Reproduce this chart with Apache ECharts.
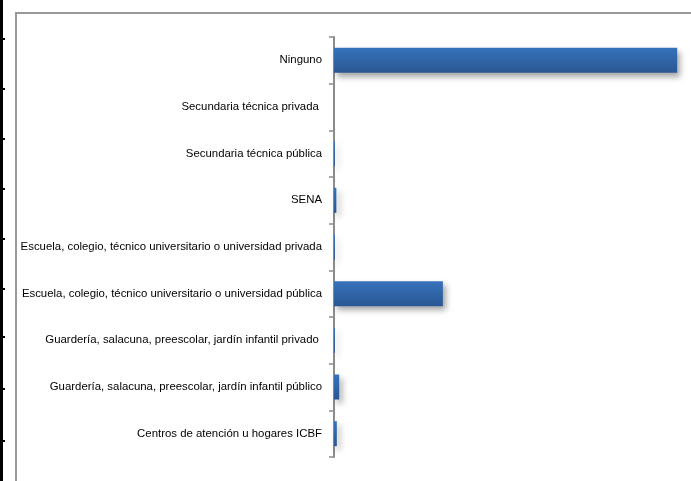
<!DOCTYPE html>
<html><head><meta charset="utf-8">
<script src="https://cdn.jsdelivr.net/npm/echarts@6/dist/echarts.min.js"></script>
<style>html,body{margin:0;padding:0;background:#fff}#c{width:691px;height:481px}</style>
</head><body><div id="c"></div>
<script>
const categories = [
  "Centros de atención u hogares ICBF",
  "Guardería, salacuna, preescolar, jardín infantil público",
  "Guardería, salacuna, preescolar, jardín infantil privado ",
  "Escuela, colegio, técnico universitario o universidad pública",
  "Escuela, colegio, técnico universitario o universidad privada",
  "SENA",
  "Secundaria técnica pública",
  "Secundaria técnica privada ",
  "Ninguno"
];
const values = [0.6, 1.1, 0.2, 23.0, 0.2, 0.5, 0.2, 0.0, 72.5];
const notchYs = [38, 88, 138, 188, 238, 288, 336, 388, 440];

const chart = echarts.init(document.getElementById('c'), null, {renderer: 'canvas'});
const graphics = [
  {type:'rect', shape:{x:0,y:0,width:3,height:481}, style:{fill:'#000'}, z:10},
  {type:'line', shape:{x1:16,y1:13,x2:691,y2:13}, style:{stroke:'#999',lineWidth:2}, z:10},
  {type:'line', shape:{x1:16,y1:12,x2:16,y2:481}, style:{stroke:'#999',lineWidth:2}, z:10}
];
notchYs.forEach(y => graphics.push({type:'rect', shape:{x:3,y:y,width:2,height:2}, style:{fill:'#000'}, z:10}));

chart.setOption({
  animation: false,
  grid: {left: 334, right: 2, top: 37, bottom: 24, containLabel: false},
  xAxis: {type: 'value', min: 0, max: 75, show: false},
  yAxis: {
    type: 'category', data: categories,
    axisLine: {lineStyle: {color: '#8c8c8c', width: 2}},
    axisTick: {show: true, length: 5, lineStyle: {color: '#8c8c8c', width: 1.5}},
    axisLabel: {color: '#000', fontFamily: 'Liberation Sans, Arial, sans-serif', fontSize: 11.4, margin: 12}
  },
  series: [{
    type: 'bar', data: values, barWidth: 25,
    itemStyle: {
      color: new echarts.graphic.LinearGradient(0,0,0,1,[{offset:0,color:'#3672bb'},{offset:1,color:'#2a5793'}]),
      shadowColor: 'rgba(0,0,0,0.35)', shadowBlur: 6, shadowOffsetX: 3, shadowOffsetY: 4
    }
  }],
  graphic: graphics
});
</script></body></html>
